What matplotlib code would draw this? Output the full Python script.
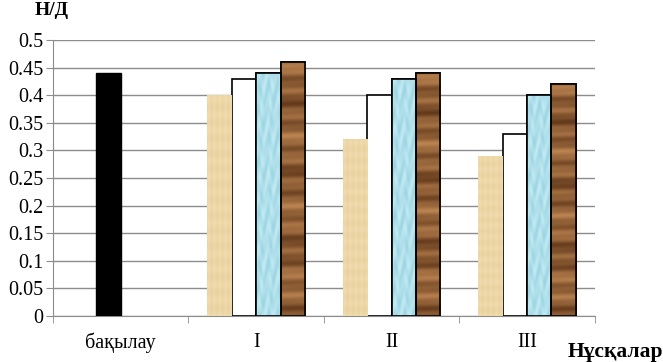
import numpy as np
import matplotlib
matplotlib.use("Agg")
import matplotlib.pyplot as plt

# chart data
categories = ["бақылау", "I", "II", "III"]
control_value = 0.44
series_sand = [None, 0.40, 0.32, 0.29]
series_white = [None, 0.43, 0.40, 0.33]
series_water = [None, 0.44, 0.43, 0.40]
series_wood = [None, 0.46, 0.44, 0.42]
y_ticks = [0, 0.05, 0.1, 0.15, 0.2, 0.25, 0.3, 0.35, 0.4, 0.45, 0.5]

plt.rcParams['font.family'] = ['Liberation Serif', 'DejaVu Serif']

fig = plt.figure(figsize=(6.63, 3.62), dpi=100)
ax = fig.add_axes([0.080, 0.127, 0.817, 0.7625])

bw = 0.18
x = np.arange(len(categories))


def texture(kind, n=200):
    # deterministic patterns to mimic the office fill textures
    yy, xx = np.mgrid[0:n, 0:40]
    if kind == "wood":
        v = 0.5 + 0.25 * np.sin(yy * 0.35) + 0.15 * np.sin(yy * 0.11 + 1.3) + 0.1 * np.sin(yy * 0.9 + xx * 0.02)
        c0 = np.array([0.38, 0.22, 0.10])
        c1 = np.array([0.74, 0.52, 0.32])
    elif kind == "water":
        v = 0.55 + 0.15 * np.sin(yy * 0.3 + np.sin(xx * 0.4) * 2) + 0.15 * np.sin(xx * 0.5 + yy * 0.13)
        c0 = np.array([0.55, 0.80, 0.86])
        c1 = np.array([0.80, 0.94, 0.97])
    else:
        v = 0.55 + 0.08 * np.sin(yy * 0.45) + 0.08 * np.sin(xx * 0.7)
        c0 = np.array([0.88, 0.77, 0.55])
        c1 = np.array([0.97, 0.90, 0.74])
    v = np.clip(v, 0, 1)[..., None]
    return c0 * (1 - v) + c1 * v


def add_bars(pos, vals, face, edge, kind=None):
    idx = [i for i, v in enumerate(vals) if v is not None]
    bars = ax.bar(pos[idx], [vals[i] for i in idx], bw, color=face,
                  edgecolor=edge, linewidth=1.2, zorder=3)
    if kind:
        for b in bars:
            im = ax.imshow(texture(kind), extent=[b.get_x(), b.get_x() + b.get_width(), 0, b.get_height()],
                           aspect='auto', zorder=3.5, interpolation='bilinear')
            im.set_clip_path(b)
            if edge != "none":
                ax.bar(b.get_x() + b.get_width() / 2, b.get_height(), b.get_width(), color="none",
                       edgecolor=edge, linewidth=1.2, zorder=4)
    return bars


ax.bar(x[0] - 0.5 * bw, control_value, bw, color="black", edgecolor="black", zorder=3)
add_bars(x - 1.5 * bw, series_sand, "#ead7a6", "none", "sand")
add_bars(x - 0.5 * bw, series_white, "white", "black")
add_bars(x + 0.5 * bw, series_water, "#a9dce8", "black", "water")
add_bars(x + 1.5 * bw, series_wood, "#8a5a30", "black", "wood")

ax.set_xlim(-0.5, 3.5)
ax.set_ylim(0, 0.5)
ax.set_yticks(y_ticks)
ax.set_yticklabels([f"{v:g}" for v in y_ticks], fontsize=14.5)
ax.yaxis.grid(True, color="#8c8c8c", linewidth=1.0, zorder=0)
ax.set_axisbelow(True)

ax.set_xticks(x)
ax.set_xticklabels(categories, fontsize=14.5)
ax.set_xticks(np.arange(-0.5, 4.0, 1.0), minor=True)
ax.tick_params(axis='x', which='major', length=0, pad=12)
ax.tick_params(axis='x', which='minor', length=5, color="#8c8c8c", direction='out')
ax.tick_params(axis='y', length=5, color="#8c8c8c", pad=2)

for s in ["top", "right"]:
    ax.spines[s].set_visible(False)
for s in ["left", "bottom"]:
    ax.spines[s].set_color("#8c8c8c")

fig.text(0.052, 0.972, "Н/Д", fontsize=14, fontweight='bold', ha='left', va='center')
fig.text(1.0, 0.028, "Нұсқалар", fontsize=15.5, fontweight='bold', ha='right', va='center')

fig.savefig("out.png", dpi=100)
